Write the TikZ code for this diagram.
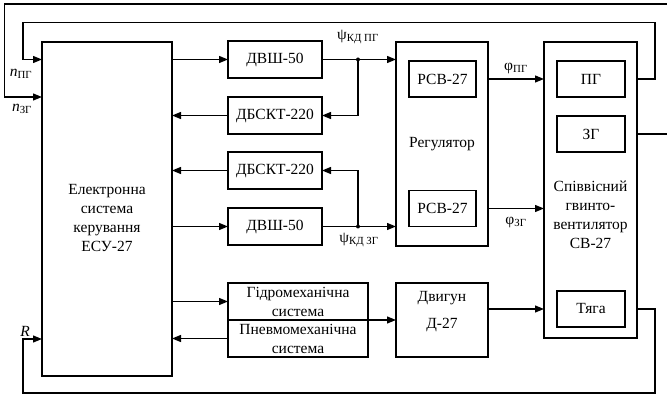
\documentclass[tikz,border=0pt]{standalone}
\usepackage{fontspec}
\setmainfont{Liberation Serif}
\usetikzlibrary{arrows.meta,calc,positioning}

\begin{document}
\begin{tikzpicture}[x=1pt,y=-1pt,>={Triangle[length=9pt,width=7pt]},line width=1.2pt,
  every node/.style={font=\fontsize{15.5}{19}\selectfont},
  blok/.style={draw,inner sep=0pt,outer sep=0pt,align=center,minimum width=94pt,minimum height=37pt},
  inblok/.style={blok,minimum width=67pt,minimum height=36pt},
  txt/.style={inner sep=0pt,align=center}]
  \useasboundingbox (0,0) rectangle (667,395);
  \clip (0,0) rectangle (667,395);
  \node[blok,minimum width=130pt,minimum height=334pt] (esu) at (107,209) {};
  \node[txt] (esutxt) at (107,218) {Електронна\\система\\керування\\ЕСУ-27};
  \node[blok] (dvsh1) at (275,59.5) {ДВШ-50};
  \node[blok] (dbskt1) at (275,115.5) {ДБСКТ-220};
  \node[blok] (dbskt2) at (275,170.5) {ДБСКТ-220};
  \node[blok] (dvsh2) at (275,226.5) {ДВШ-50};
  \node[blok,minimum width=140pt] (gidro) at (298,301.5) {Гідромеханічна\\система};
  \node[blok,minimum width=140pt] (pnevmo) at (298,338.5) {Пневмомеханічна\\система};
  \node[blok,minimum width=92pt,minimum height=204pt] (reg) at (442,144) {Регулятор};
  \node[inblok] (rsv1) at (442.5,79) {РСВ-27};
  \node[inblok] (rsv2) at (442.5,208.5) {РСВ-27};
  \node[blok,minimum width=92pt,minimum height=74pt] (dvyhun) at (442,320) {};
  \node[txt] (dvtxt) at (442,311.5) {Двигун\\[8pt]Д-27};
  \node[blok,minimum width=93pt,minimum height=296pt] (sv) at (590.5,190) {};
  \node[txt] (svtxt) at (590.5,215) {Співвісний\\гвинто-\\вентилятор\\СВ-27};
  \node[inblok,minimum width=68pt] (pg) at (591,79) {ПГ};
  \node[inblok,minimum width=68pt] (zg) at (591,134) {ЗГ};
  \node[inblok,minimum width=68pt] (tyaga) at (591,309) {Тяга};

  \coordinate (j1) at (358,59.5);
  \coordinate (j2) at (358,226.5);
  \coordinate (pgup) at (655,22.7);
  \coordinate (pgl) at (23,22.7);
  \coordinate (zgup) at (690,4);
  \coordinate (zgl) at (4.7,4);
  \coordinate (tyd) at (655,393);
  \coordinate (tyl) at (23,393);
  \coordinate (inzg) at (42,97);
  \coordinate (inr) at (42,339);

  \draw[->] (esu.east |- dvsh1) -- (dvsh1.west);
  \draw[->] (dbskt1.west) -- (esu.east |- dbskt1);
  \draw[->] (dbskt2.west) -- (esu.east |- dbskt2);
  \draw[->] (esu.east |- dvsh2) -- (dvsh2.west);
  \draw[->] (dvsh1.east) -- (reg.west |- dvsh1);
  \draw[->] (j1) |- (dbskt1.east);
  \draw[->] (dvsh2.east) -- (reg.west |- dvsh2);
  \draw[->] (j2) |- (dbskt2.east);
  \fill (j1) circle (2pt) (j2) circle (2pt);
  \node[txt] (psipg) at (358,37) {ψ\textsubscript{КД ПГ}};
  \node[txt] (psizg) at (359,240) {ψ\textsubscript{КД ЗГ}};

  \draw[->] (reg.east |- rsv1) -- node[txt,above=5pt] (phipg) {φ\textsubscript{ПГ}} (sv.west |- rsv1);
  \draw[->] (reg.east |- rsv2) -- node[txt,below=8pt] (phizg) {φ\textsubscript{ЗГ}} (sv.west |- rsv2);

  \draw[->] (esu.east |- gidro) -- (gidro.west);
  \draw[->] (pnevmo.west) -- (esu.east |- pnevmo);
  \draw[->] (gidro.south west) -- (dvyhun.west);
  \draw[->] (dvyhun.east |- tyaga) -- (sv.west |- tyaga);

  \draw[->] (sv.east |- pg) -| (pgup) -| (pgl) |- (esu.west |- dvsh1);
  \draw[->] (sv.east |- zg) -| (zgup) -| (zgl) |- (inzg);
  \draw[->] (sv.east |- tyaga) -| (tyd) -| (tyl) |- (inr);
  \node[txt] (npg) at (21,74) {\textit{n}\textsubscript{ПГ}};
  \node[txt] (nzg) at (22,109) {\textit{n}\textsubscript{ЗГ}};
  \node[txt] (rlab) at (25,331) {\textit{R}};
\end{tikzpicture}
\end{document}
